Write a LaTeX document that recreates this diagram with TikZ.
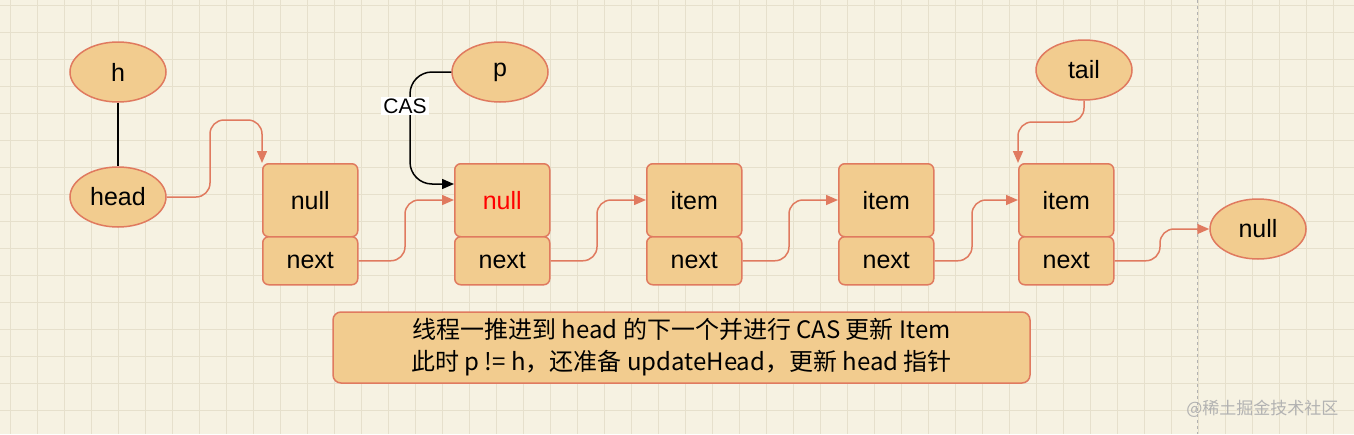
\documentclass[tikz,border=0pt]{standalone}
\usepackage{fontspec}
\setmainfont{Liberation Sans}
\newfontfamily\cjk{Noto Sans CJK SC}
\usetikzlibrary{shapes.geometric,arrows.meta}
\definecolor{bg}{HTML}{F6F2E2}
\definecolor{gridc}{HTML}{E6E0CC}
\definecolor{fillc}{HTML}{F2CC8F}
\definecolor{edgec}{HTML}{E07A5F}
\tikzset{
  oval/.style={ellipse,draw=edgec,fill=fillc,line width=1.5pt,minimum width=96pt,minimum height=60pt,font=\fontsize{25}{27}\selectfont},
  cell/.style={rectangle,rounded corners=6pt,draw=edgec,fill=fillc,line width=1.5pt,minimum width=95pt,font=\fontsize{25}{27}\selectfont},
  link/.style={draw=edgec,line width=1.5pt,rounded corners=14pt,-{Triangle[length=12pt,width=10pt]}},
}
\begin{document}
\begin{tikzpicture}[x=1pt,y=-1pt]
\fill[bg] (0,0) rectangle (1354,434);
\useasboundingbox (0,0) rectangle (1354,434);
\foreach \i in {0,...,50} \draw[gridc,line width=0.6pt] (\i*27+10,0) -- (\i*27+10,434);
\foreach \j in {0,...,16} \draw[gridc,line width=0.6pt] (0,\j*27+5) -- (1354,\j*27+5);
\draw[gray!60,dashed,line width=0.8pt] (1197,0) -- (1197,434);

\node[oval] (h) at (118,72) {h};
\node[oval] (head) at (118,197) {head};
\node[oval] (p) at (500,72) {p};
\node[oval] (tail) at (1084,70) {tail};
\node[oval] (nl) at (1258,229) {null};
\draw[line width=1.5pt] (h) -- (head);

\foreach \n/\x/\t in {a/262/null,b/454/{\textcolor{red}{null}},c/646/item,d/838/item,e/1018/item}{
  \node[cell,anchor=north west,minimum height=73pt] (\n1) at (\x,163) {\t};
  \node[cell,anchor=north west,minimum height=48pt] (\n2) at (\x,236) {next};
}

\coordinate (ha) at (262,120);
\draw[link] (head.east) -| (210,120) -- (ha) -- (a1.north west);
\foreach \u/\v/\m in {a/b/405,b/c/597,c/d/789,d/e/972}{
  \draw[link] (\u2.east) -| (\m,200) -- (\v1.west |- 0,200);
}
\draw[link] (e2.east) -| (1160,229) -- (nl.west);
\draw[link] (tail.south) |- (1018,122) -- (e1.north west);
\draw[line width=1.5pt,rounded corners=22pt,-{Triangle[length=12pt,width=10pt]}] (p.west) -| (410,184) -- (454,184);
\node[fill=white,inner sep=2pt,font=\fontsize{21}{23}\selectfont] (cas) at (405,106) {CAS};

\node[draw=edgec,fill=fillc,line width=1.5pt,rounded corners=8pt,minimum width=697pt,minimum height=71pt,align=center,font=\cjk\fontsize{24}{32}\selectfont] (txt) at (681.5,347.5) {线程一推进到 head 的下一个并进行 CAS 更新 Item\\此时 p != h，还准备 updateHead，更新 head 指针};
\node[anchor=east,text=gray!60,font=\cjk\fontsize{17}{19}\selectfont] (wm) at (1342,409) {@稀土掘金技术社区};
\end{tikzpicture}
\end{document}
